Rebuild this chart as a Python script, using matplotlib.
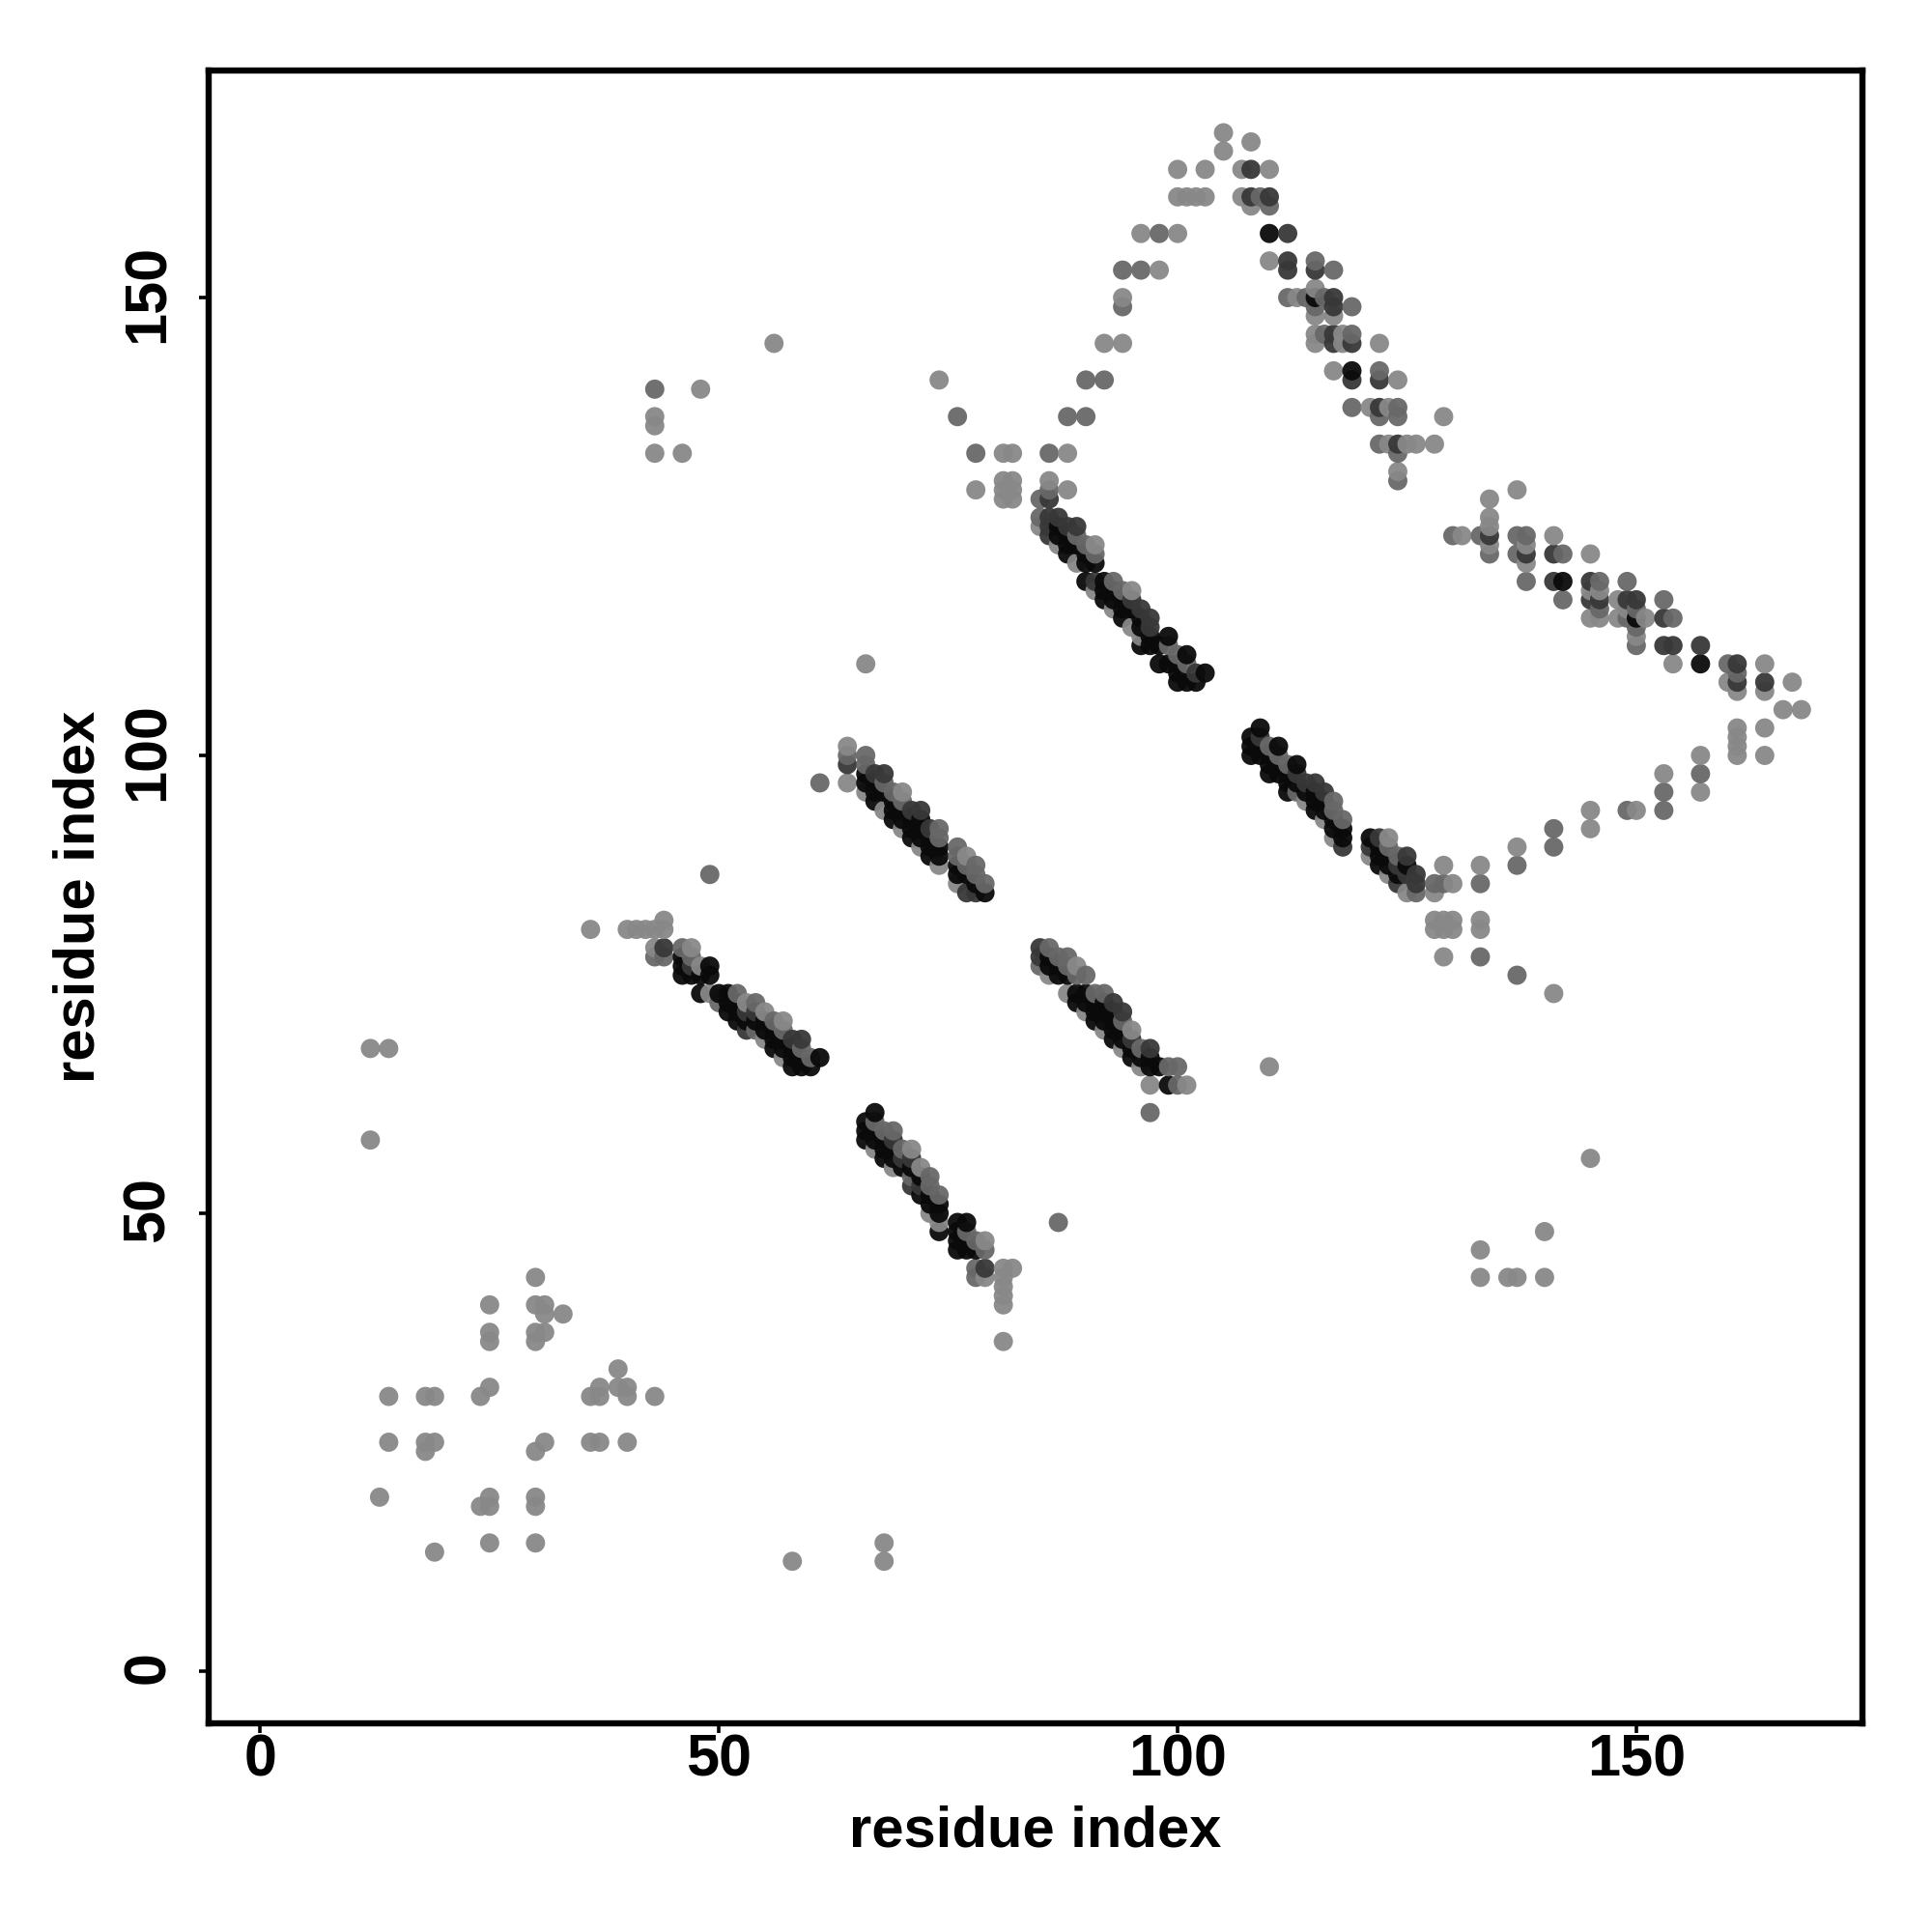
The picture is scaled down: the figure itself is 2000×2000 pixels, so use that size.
import numpy as np
import matplotlib
matplotlib.use("Agg")
import matplotlib.pyplot as plt
from matplotlib.transforms import ScaledTranslation

plt.rcParams['font.family'] = ['Liberation Sans', 'DejaVu Sans']

# contacts, one list per grey level (residue i, residue j)
light_pts = [
    (12,68),(14,68),(12,58),(14,30),(14,25),(13,19),(18,30),(19,30),(18,25),(18,24),(19,25),(19,13),
    (24,30),(25,31),(25,40),(25,37),(25,36),(24,18),(25,18),(25,19),(25,14),(30,43),(30,40),(31,40),
    (31,39),(33,39),(30,37),(30,36),(31,37),(30,24),(31,25),(30,19),(30,18),(30,14),(36,30),(37,30),
    (37,31),(36,25),(37,25),(39,33),(39,31),(40,31),(40,30),(40,25),(43,30),(58,12),(68,14),(68,12),
    (81,36),(81,40),(81,41),(81,42),(81,43),(81,44),(82,44),(133,46),(133,43),(136,43),(137,43),
    (140,48),(140,43),(145,56),(110,66),(141,74),(36,81),(40,81),(41,81),(42,81),(43,81),(44,82),(44,81),
    (66,110),(64,101),(64,97),(43,137),(43,136),(43,133),(46,133),(48,140),(56,145),(74,141),(78,129),
    (81,133),(82,133),(81,130),(82,130),(81,129),(82,129),(81,128),(82,128),(88,133),(86,130),(88,129),
    (43,79),(47,79),(48,77),(49,74),(53,73),(55,72),(57,71),(55,69),(57,67),
    (67,57),(69,55),(71,57),(72,55),(73,50),(74,49),(79,47),(79,43),
    (86,76),(89,77),(88,74),(90,72),(95,70),(92,70),(94,68),(96,66),(97,64),(101,64),
    (66,96),(68,94),(70,96),(70,92),(72,90),(74,88),(76,86),(77,89),(85,125),(87,123),(91,123),(89,121),
    (91,118),(95,118),(93,116),(95,114),(96,113),
    (114,95),(116,93),(117,91),(123,91),(121,89),(123,87),(125,85),(128,85),
    (130,86),(129,88),(133,88),(128,82),(129,82),(130,82),(128,81),(129,81),(130,81),(133,82),(133,81),
    (129,78),(137,90),(145,94),(145,92),(150,94),(153,98),(157,100),(157,96),(161,103),(161,102),
    (161,101),(161,100),(164,103),(164,100),(166,105),(168,105),(167,108),(164,107),(164,110),(160,108),
    (161,107),(134,128),(137,129),(134,126),(134,125),(131,124),(141,124),(134,123),(138,123),(138,121),
    (145,122),(145,118),(146,118),(148,117),(145,115),(146,115),(148,115),(149,116),(151,115),(150,113),
    (154,110),(105,168),(108,167),(105,166),(100,164),(103,164),(107,164),(110,164),(100,161),(101,161),
    (102,161),(103,161),(107,161),(108,160),(100,157),(110,154),(98,153),(115,151),(113,150),(115,148),
    (117,148),(115,146),(118,146),(115,145),(118,145),(122,145),(117,142),(124,141),(121,138),(123,138),
    (129,137),(123,134),(125,134),(126,134),(128,134),(124,131),(92,145),(94,145),(94,150),
    (96,157),
]
mid_pts = [
    (87,49),(97,61),(137,76),(133,78),(49,87),(61,97),(64,100),(43,140),(76,137),(78,133),(86,129),(85,128),
    (43,78),(44,78),(46,79),(47,78),(50,73),(54,70),(59,68),(52,74),(54,73),(56,71),(57,70),(60,67),
    (68,59),(69,59),(70,57),(67,60),(71,54),(73,54),(73,53),(74,52),(77,48),(78,47),(79,46),(78,44),(78,43),
    (86,79),(87,78),(88,78),(85,77),(88,77),(89,76),(90,76),(91,74),(92,74),(94,71),(96,68),(99,66),(100,66),(100,64),
    (66,100),(66,99),(68,97),(69,96),(70,95),(74,92),(74,91),(76,90),(76,89),(77,88),(78,88),(78,87),(79,86),
    (85,126),(89,124),(90,123),(91,122),(93,119),(94,118),(99,112),(100,111),(101,110),
    (110,101),(111,100),(112,99),(113,96),(117,95),(117,94),(118,93),(124,89),(123,90),(126,85),
    (128,86),(129,86),(133,86),(137,88),(141,92),(141,90),(149,94),(153,96),(153,94),(157,98),(160,110),
    (161,109),(130,124),(133,124),(137,124),(138,124),(134,122),(137,122),(142,122),(138,119),(146,119),
    (149,119),(142,117),(153,117),(146,116),(150,116),(154,115),(149,115),(150,114),(150,112),
    (98,157),(96,153),(94,153),(94,149),(90,141),(92,141),(88,137),(90,137),(86,133),
    (109,161),(110,160),(115,154),(117,153),(112,150),(114,150),(116,150),(115,149),(119,149),
    (116,146),(119,146),(122,142),(119,138),(124,138),(122,137),(124,137),(122,134),(124,133),(124,130),
]
dark_pts = [
    (44,79),(47,77),(53,70),(58,69),(59,69),(53,72),(54,72),
    (69,58),(70,56),(71,56),(71,53),(72,53),(85,78),(93,73),(94,72),(95,69),(97,68),
    (85,79),(67,98),(68,98),(71,94),(72,94),(73,92),(64,99),(77,85),(78,85),
    (86,128),(86,126),(87,126),(86,125),(86,124),(88,125),(89,125),(91,119),(95,117),(96,116),(97,115),(97,114),
    (102,109),(109,102),(113,98),(114,97),(115,97),(116,96),(118,90),
    (121,90),(122,91),(125,89),(124,88),(126,87),(125,87),(126,86),(124,86),(79,44),
    (134,124),(138,122),(141,122),(141,119),(145,119),(145,117),(146,117),(149,117),(150,117),(153,115),
    (153,112),(154,112),(157,112),(161,110),(161,108),(164,108),
    (108,164),(108,161),(110,161),(112,157),(112,154),(112,153),(115,153),(117,150),(117,149),
    (117,146),(117,145),(119,145),(119,141),(122,141),(122,138),(124,134),
]
black_pts = [
    (46,78),(46,77),(46,76),(47,76),(48,76),(49,76),(49,77),(48,74),(50,74),(51,74),(51,73),(52,73),(51,72),(52,72),
    (52,71),(53,71),(54,71),(55,71),(55,70),(56,70),(56,69),(57,69),(56,68),(57,68),(58,68),(58,67),(59,67),(61,67),
    (58,66),(59,66),(60,66),(67,61),(66,60),(66,59),(66,58),(67,59),(67,58),(68,58),(68,57),(69,57),(68,56),(69,56),
    (70,55),(71,55),(72,54),(72,52),(73,52),(73,51),(74,51),(74,50),(74,48),(76,49),(77,49),(76,48),(76,47),(76,46),
    (77,47),(77,46),(78,46),
    (86,78),(86,77),(87,77),(87,76),(88,76),(89,74),(90,74),(89,73),(90,73),(91,73),(92,73),(91,72),(92,72),(93,72),(91,71),(92,71),
    (93,71),(93,70),(94,70),(93,69),(94,69),(95,68),(95,67),(96,67),(97,67),(97,66),(98,66),(99,64),
    (66,98),(66,97),(67,97),(67,96),(67,95),(68,96),(69,95),(69,94),(69,93),(70,94),(70,93),(71,93),(71,92),(72,93),(72,92),
    (71,91),(72,91),(73,91),(73,90),(74,90),(73,89),(74,89),(76,88),(76,87),(77,87),(78,86),(79,85),
    (87,125),(87,124),(88,124),(88,123),(89,123),(88,122),(90,122),(90,121),(91,121),(90,119),(92,119),(92,118),(92,117),
    (93,118),(93,117),(94,117),(94,116),(95,116),(94,115),(96,115),(96,114),(97,113),(96,112),(97,112),(98,112),(99,113),
    (101,111),(98,110),(99,110),(100,110),(103,109),(100,109),(100,108),(101,108),(102,108),
    (109,103),(108,102),(108,101),(108,100),(109,101),(109,100),(111,101),(110,100),(113,99),(110,99),(111,99),(110,98),
    (111,98),(112,98),(112,97),(113,97),(112,96),(114,96),(115,96),(115,95),(116,95),(115,94),(116,94),(117,93),(117,92),(118,92),(118,91),
    (121,91),(122,90),(122,89),(123,89),(122,88),(123,88),(125,88),(124,87),
    (142,119),(150,115),(157,110),(110,157),(115,150),(119,142),
]

tick_vals = [0, 50, 100, 150]
grey_levels = ['#888888', '#686868', '#383838', '#0a0a0a']

# draw left to right, bottom to top, the overlaps depend on it
pts, cols = [], []
for group, grey in zip([light_pts, mid_pts, dark_pts, black_pts], grey_levels):
    for p in group:
        pts.append(p)
        cols.append(grey)
order = sorted(range(len(pts)), key=lambda k: (pts[k][0], pts[k][1]))
x = np.array([pts[k][0] for k in order])
y = np.array([pts[k][1] for k in order])
c = [cols[k] for k in order]

fig = plt.figure(figsize=(20, 20), dpi=100)
ax = fig.add_axes([216/2000, 1-1784/2000, (1927.5-216)/2000, (1784-72.5)/2000])
ax.scatter(x, y, s=205, c=c, linewidths=0, alpha=0.95)

ax.set_xlim(-5.63, 174.6)
ax.set_ylim(-5.7, 174.85)
ax.set_xticks(tick_vals)
ax.set_yticks(tick_vals)
ax.tick_params(length=7, width=2.6, labelsize=44)
ax.tick_params(axis='x', pad=0.5)
ax.tick_params(axis='y', pad=17)
for t in ax.get_xticklabels() + ax.get_yticklabels():
    t.set_fontweight('bold')
# rotated labels sit a little low otherwise
up = ScaledTranslation(0, 3/72, fig.dpi_scale_trans)
for t in ax.get_yticklabels():
    t.set_rotation(90)
    t.set_va('center')
    t.set_transform(t.get_transform() + up)
for s in ax.spines.values():
    s.set_linewidth(4.6)

ax.set_xlabel("residue index", fontsize=43, fontweight='bold', labelpad=12)
ax.set_ylabel("residue index", fontsize=43, fontweight='bold', labelpad=11.5)

fig.savefig("out.png", dpi=100)
